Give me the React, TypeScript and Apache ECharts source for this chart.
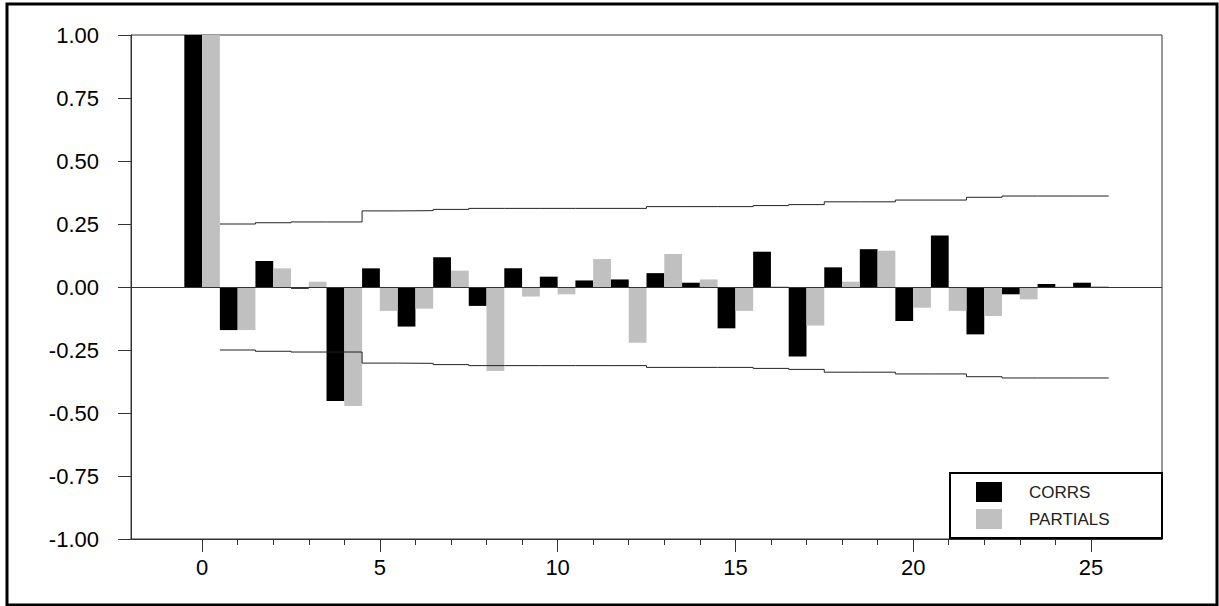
import React, { useEffect, useRef } from "react";
import * as echarts from "echarts";

const lags = [0, 1, 2, 3, 4, 5, 6, 7, 8, 9, 10, 11, 12, 13, 14, 15, 16, 17, 18, 19, 20, 21, 22, 23, 24, 25];
const corrs = [1.0, -0.171, 0.103, -0.007, -0.452, 0.074, -0.157, 0.118, -0.075, 0.074, 0.041, 0.026, 0.03, 0.055, 0.017, -0.164, 0.14, -0.276, 0.078, 0.15, -0.135, 0.204, -0.188, -0.029, 0.012, 0.017];
const partials = [1.0, -0.171, 0.074, 0.021, -0.472, -0.095, -0.086, 0.065, -0.333, -0.038, -0.029, 0.111, -0.221, 0.131, 0.03, -0.095, 0.003, -0.153, 0.021, 0.144, -0.082, -0.095, -0.115, -0.049, 0.002, 0.004];
// confidence bound for lags 1..25
const boundLags = [1, 2, 3, 4, 5, 6, 7, 8, 9, 10, 11, 12, 13, 14, 15, 16, 17, 18, 19, 20, 21, 22, 23, 24, 25];
const bounds = [0.25, 0.255, 0.258, 0.258, 0.302, 0.303, 0.308, 0.312, 0.312, 0.312, 0.312, 0.312, 0.319, 0.319, 0.319, 0.323, 0.327, 0.338, 0.338, 0.345, 0.345, 0.356, 0.361, 0.361, 0.361];
const xMajor = [0, 5, 10, 15, 20, 25];

const FONT = "'Liberation Sans', Arial, sans-serif";

export default function App() {
  const ref = useRef<HTMLDivElement>(null);
  useEffect(() => {
    if (!ref.current) return;
    const chart = echarts.init(ref.current, null, { renderer: "svg" });

    const upper: number[][] = [];
    const lower: number[][] = [];
    boundLags.forEach((k, i) => {
      upper.push([k - 0.5, bounds[i]], [k + 0.5, bounds[i]]);
      lower.push([k - 0.5, -bounds[i]], [k + 0.5, -bounds[i]]);
    });

    const makeRender = (offset: number) => (params: any, api: any) => {
      const lag = api.value(0);
      const v = api.value(1);
      const p0 = api.coord([lag + offset, v]);
      const p1 = api.coord([lag + offset + 0.5, 0]);
      return {
        type: "rect",
        shape: {
          x: p0[0],
          y: Math.min(p0[1], p1[1]),
          width: p1[0] - p0[0],
          height: Math.abs(p1[1] - p0[1]),
        },
        style: { fill: api.visual("color") },
      };
    };

    chart.setOption({
      animation: false,
      backgroundColor: "#fff",
      grid: { left: 131, right: 57, top: 35, bottom: 67, show: true, borderColor: "#333", borderWidth: 1, backgroundColor: "transparent" },
      legend: {
        orient: "vertical",
        left: 976,
        top: 482,
        padding: 0,
        itemWidth: 26,
        itemHeight: 20,
        itemGap: 7,
        icon: "rect",
        z: 10,
        textStyle: { fontFamily: FONT, fontSize: 17, color: "#222", padding: [0, 0, 0, 22] },
        data: ["CORRS", "PARTIALS"],
      },
      xAxis: [
        {
          type: "value",
          min: -2,
          max: 27,
          position: "bottom",
          axisLine: { show: true, onZero: false, lineStyle: { color: "#333", width: 1 } },
          axisTick: { show: true, length: 6, customValues: lags, lineStyle: { color: "#333" } },
          axisLabel: { show: false },
          splitLine: { show: false },
        },
        {
          type: "value",
          min: -2,
          max: 27,
          position: "bottom",
          axisLine: { show: false, onZero: false },
          axisTick: { show: true, length: 13, customValues: xMajor, lineStyle: { color: "#333" } },
          axisLabel: { show: true, customValues: xMajor, fontFamily: FONT, fontSize: 22, color: "#000", margin: 17 },
          splitLine: { show: false },
        },
      ],
      yAxis: {
        type: "value",
        min: -1,
        max: 1,
        interval: 0.25,
        position: "left",
        axisLine: { show: true, onZero: false, lineStyle: { color: "#333", width: 1 } },
        axisTick: { show: true, length: 13, lineStyle: { color: "#333" } },
        axisLabel: {
          fontFamily: FONT,
          fontSize: 22,
          color: "#000",
          margin: 32,
          formatter: (v: number) => v.toFixed(2),
        },
        splitLine: { show: false },
      },
      graphic: [
        {
          type: "rect",
          z: 5,
          shape: { x: 950, y: 473, width: 212, height: 65 },
          style: { fill: "#fff", stroke: "#000", lineWidth: 2 },
        },
        {
          type: "rect",
          z: 5,
          shape: { x: 7, y: 4, width: 1210, height: 601 },
          style: { fill: "none", stroke: "#000", lineWidth: 3 },
        },
      ],
      series: [
        {
          name: "CORRS",
          type: "custom",
          xAxisIndex: 0,
          itemStyle: { color: "#000" },
          encode: { x: 0, y: 1 },
          renderItem: makeRender(-0.5),
          data: lags.map((k, i) => [k, corrs[i]]),
          markLine: {
            silent: true,
            symbol: "none",
            label: { show: false },
            lineStyle: { color: "#333", width: 1, type: "solid" },
            data: [{ yAxis: 0 }],
          },
        },
        {
          name: "PARTIALS",
          type: "custom",
          xAxisIndex: 0,
          itemStyle: { color: "#c0c0c0" },
          encode: { x: 0, y: 1 },
          renderItem: makeRender(0),
          data: lags.map((k, i) => [k, partials[i]]),
        },
        {
          name: "upper",
          type: "line",
          xAxisIndex: 0,
          showSymbol: false,
          symbol: "none",
          lineStyle: { color: "#222", width: 1 },
          data: upper,
          z: 3,
        },
        {
          name: "lower",
          type: "line",
          xAxisIndex: 0,
          showSymbol: false,
          symbol: "none",
          lineStyle: { color: "#222", width: 1 },
          data: lower,
          z: 3,
        },
      ],
    });
    return () => chart.dispose();
  }, []);
  return <div ref={ref} style={{ position: "absolute", left: 0, top: 0, width: 1219, height: 606 }} />;
}
